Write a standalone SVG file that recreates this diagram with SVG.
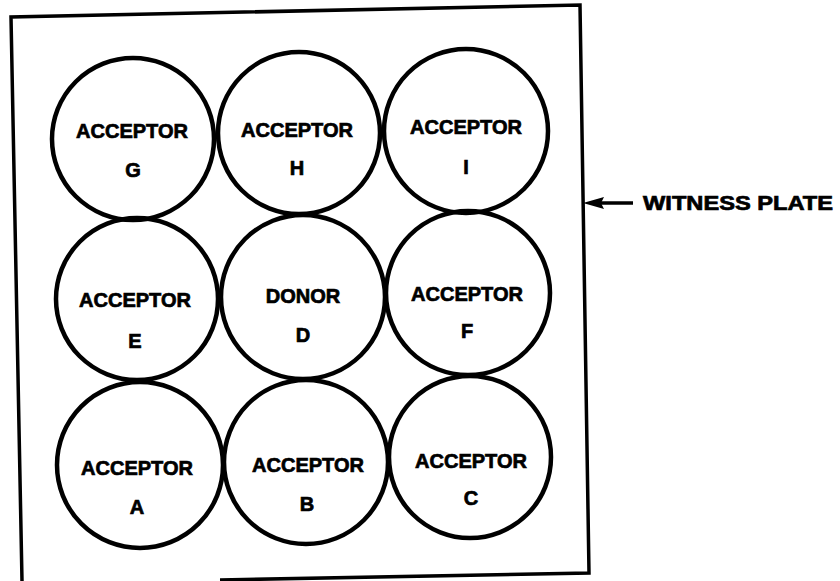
<svg xmlns="http://www.w3.org/2000/svg" width="840" height="581" viewBox="0 0 840 581">
<defs>
<style>
.c{fill:none;stroke:#000;stroke-width:4.5}
.t{font-family:"Liberation Sans",Arial,sans-serif;font-weight:bold;font-size:20px;fill:#000;stroke:#000;stroke-width:0.7;text-anchor:middle}
.frame{fill:none;stroke:#000;stroke-width:3.5;stroke-linejoin:miter}
</style>
</defs>
<rect width="840" height="581" fill="#fff"/>
<g id="plate">
<path class="frame" d="M220,580 L589,573 L580,5 L11,17 L22,581"/>
<text class="t" x="738" y="210" textLength="190" lengthAdjust="spacingAndGlyphs">WITNESS PLATE</text>
</g>
<g id="connectors">
<line x1="598" y1="203" x2="633" y2="203" stroke="#000" stroke-width="3.5"/>
<path d="M583,203 L604,197 L601,203 L604,209 Z" fill="#000"/>
</g>
<g id="G"><circle class="c" cx="133" cy="139" r="81"/><text class="t" x="132" y="138">ACCEPTOR</text><text class="t" x="133" y="177">G</text></g>
<g id="H"><circle class="c" cx="299" cy="133" r="81"/><text class="t" x="297" y="137">ACCEPTOR</text><text class="t" x="297" y="175">H</text></g>
<g id="I"><circle class="c" cx="466" cy="131" r="82"/><text class="t" x="466" y="134">ACCEPTOR</text><text class="t" x="466" y="174">I</text></g>
<g id="E"><circle class="c" cx="137" cy="299" r="81"/><text class="t" x="135" y="307">ACCEPTOR</text><text class="t" x="135" y="348">E</text></g>
<g id="D"><circle class="c" cx="303" cy="297" r="82"/><text class="t" x="303" y="303">DONOR</text><text class="t" x="303" y="342">D</text></g>
<g id="F"><circle class="c" cx="468" cy="293" r="82"/><text class="t" x="467" y="301">ACCEPTOR</text><text class="t" x="467" y="338">F</text></g>
<g id="A"><circle class="c" cx="140" cy="465" r="83"/><text class="t" x="137" y="475">ACCEPTOR</text><text class="t" x="137" y="514">A</text></g>
<g id="B"><circle class="c" cx="306" cy="462" r="82"/><text class="t" x="308" y="472">ACCEPTOR</text><text class="t" x="307" y="511">B</text></g>
<g id="C"><circle class="c" cx="470" cy="457" r="81"/><text class="t" x="471" y="468">ACCEPTOR</text><text class="t" x="471" y="505">C</text></g>
</svg>
